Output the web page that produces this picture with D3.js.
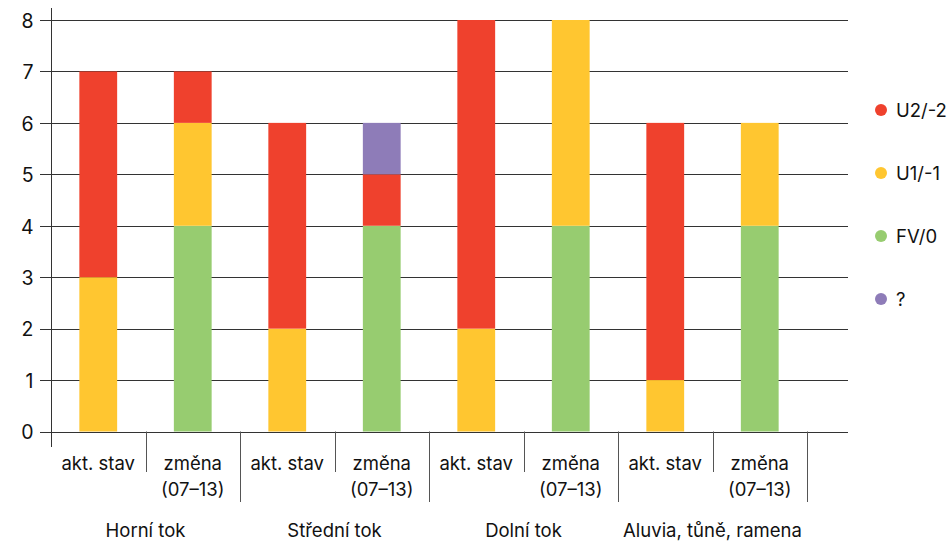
<!DOCTYPE html>
<html><head><meta charset="utf-8">
<script src="https://cdn.jsdelivr.net/npm/d3@7"></script>
<style>body{margin:0;background:#fff}text{font-family:Inter,"Noto Sans",sans-serif;fill:#111}</style>
</head><body>
<svg id="c" width="950" height="542"></svg>
<script>
const groups = ["Horní tok","Střední tok","Dolní tok","Aluvia, tůně, ramena"];
const subcats = ["akt. stav","změna (07–13)"];
const seriesNames = ["FV/0","U1/-1","U2/-2","?"];
const legendOrder = ["U2/-2","U1/-1","FV/0","?"];
const colors = {"FV/0":"#97cc70","U1/-1":"#ffc630","U2/-2":"#ef412d","?":"#8e7cb8"};
// per bar (group x subcat), values for FV, U1, U2, ?
const FV = [0,4, 0,4, 0,4, 0,4];
const U1 = [3,2, 2,0, 2,4, 1,2];
const U2 = [4,1, 4,1, 6,0, 5,0];
const Q  = [0,0, 0,1, 0,0, 0,0];
const yTicks = [0,1,2,3,4,5,6,7,8];

const rows = [];
groups.forEach((g,gi)=>subcats.forEach((s,si)=>{
  const i = gi*2+si;
  rows.push({key:g+"|"+s, g, s, "FV/0":FV[i], "U1/-1":U1[i], "U2/-2":U2[i], "?":Q[i]});
}));

const svg = d3.select("#c");
const x0 = 51, x1 = 807, gridEnd = 848;
const x = d3.scaleBand().domain(rows.map(r=>r.key)).range([x0,x1]).paddingInner(0.6).paddingOuter(0.3);
const y = d3.scaleLinear().domain([0,8]).range([431.5,20]);

// gridlines
svg.append("g").selectAll("line").data(yTicks).join("line")
  .attr("x1",40).attr("x2",gridEnd).attr("y1",d=>Math.round(y(d))+0.5).attr("y2",d=>Math.round(y(d))+0.5)
  .attr("stroke","#333").attr("stroke-width",1);

// bars
const stack = d3.stack().keys(seriesNames)(rows);
svg.append("g").selectAll("g").data(stack).join("g").attr("fill",d=>colors[d.key])
  .selectAll("rect").data(d=>d).join("rect")
  .attr("x",d=>x(d.data.key)).attr("width",x.bandwidth())
  .attr("y",d=>y(d[1])).attr("height",d=>y(d[0])-y(d[1]));

// y axis
const yAxis = d3.axisLeft(y).tickValues(yTicks).tickSize(0).tickPadding(18);
const ya = svg.append("g").attr("transform",`translate(${x0+0.5},1)`).call(yAxis);
ya.select(".domain").remove();
ya.selectAll("text").attr("font-size",19.5).attr("fill","#111").style("font-family","Inter,'Noto Sans',sans-serif");
svg.append("line").attr("x1",x0+0.5).attr("x2",x0+0.5).attr("y1",8).attr("y2",447).attr("stroke","#333");
// x baseline
svg.append("line").attr("x1",x0).attr("x2",gridEnd).attr("y1",Math.round(y(0))+0.5).attr("y2",Math.round(y(0))+0.5).attr("stroke","#333");

// separators
const step = x.step();
d3.range(1,9).forEach(i=>{
  const xx = Math.round(x0 + i*step)+0.5;
  const long = i%2===0;
  svg.append("line").attr("x1",xx).attr("x2",xx).attr("y1",y(0)).attr("y2",long?502:472).attr("stroke","#555");
});

// category labels
const lab = svg.append("g");
rows.forEach(r=>{
  const cx = x(r.key)+x.bandwidth()/2;
  const parts = r.s==="akt. stav" ? ["akt. stav"] : ["změna","(07–13)"];
  parts.forEach((p,pi)=>lab.append("text").attr("x",cx).attr("y",470+pi*26).attr("text-anchor","middle").attr("font-size",18.5).text(p));
});
groups.forEach((g,gi)=>{
  const cx = x0 + step*(gi*2+1);
  lab.append("text").attr("x",cx).attr("y",537).attr("text-anchor","middle").attr("font-size",18.5).text(g);
});

// legend
const lg = svg.append("g");
legendOrder.forEach((k,i)=>{
  const yy = 110 + i*63;
  lg.append("circle").attr("cx",881).attr("cy",yy).attr("r",6).attr("fill",colors[k]);
  lg.append("text").attr("x",896).attr("y",yy).attr("dy","0.36em").attr("font-size",18.5).text(k);
});
</script>
</body></html>
